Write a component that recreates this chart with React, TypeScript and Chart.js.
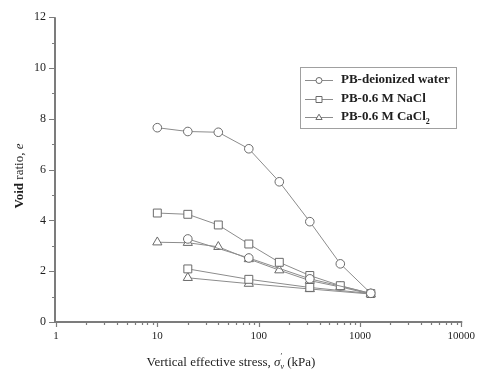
import React, { useEffect, useRef } from "react";
import { Chart, registerables } from "chart.js";

Chart.register(...registerables);

// ---- data ----
const stressLoading = [10, 20, 40, 80, 160, 320, 640, 1280];
const stressUnloading = [320, 80, 20];
const waterLoading = [7.65, 7.5, 7.47, 6.82, 5.52, 3.95, 2.29, 1.13];
const waterUnloading = [1.7, 2.52, 3.27];
const naclLoading = [4.29, 4.24, 3.82, 3.07, 2.35, 1.83, 1.43, 1.12];
const naclUnloading = [1.36, 1.68, 2.09];
const caclLoading = [3.14, 3.12, 2.96, 2.48, 2.04, 1.63, 1.38, 1.1];
const caclUnloading = [1.3, 1.51, 1.74];
const seriesLabels = ["PB-deionized water", "PB-0.6 M NaCl", "PB-0.6 M CaCl"];
const seriesSubscripts = ["", "", "2"];
const pointStyles = ["circle", "rect", "triangle"];
const xMajorTicks = [1, 10, 100, 1000, 10000];
const yTicks = [0, 2, 4, 6, 8, 10, 12];

const SERIF = '"Liberation Serif", "Times New Roman", serif';
const LINE = "#8c8c8c";
const MARK = "#6a6a6a";
const AXIS = "#7c7c7c";
const TEXT = "#1e1e1e";

function buildPath(loadY: number[], unloadY: number[]) {
  return [
    ...stressLoading.map((x, i) => ({ x, y: loadY[i] })),
    ...stressUnloading.map((x, i) => ({ x, y: unloadY[i] })),
  ];
}

function drawMarker(ctx: CanvasRenderingContext2D, style: string, x: number, y: number, r: number) {
  ctx.beginPath();
  if (style === "circle") {
    ctx.arc(x, y, r, 0, Math.PI * 2);
  } else if (style === "rect") {
    ctx.rect(x - r, y - r, 2 * r, 2 * r);
  } else {
    const h = r * 1.1;
    ctx.moveTo(x, y - h);
    ctx.lineTo(x + h * 0.95, y + h * 0.6);
    ctx.lineTo(x - h * 0.95, y + h * 0.6);
    ctx.closePath();
  }
  ctx.fillStyle = "#fff";
  ctx.fill();
  ctx.stroke();
}

type Piece = { t: string; font: string; dy?: number; overlap?: boolean };

function drawPieces(ctx: CanvasRenderingContext2D, pieces: Piece[], cx: number, cy: number) {
  let total = 0;
  const widths: number[] = [];
  pieces.forEach((p) => {
    ctx.font = p.font;
    const w = ctx.measureText(p.t).width;
    widths.push(w);
    if (!p.overlap) total += w;
  });
  let x = cx - total / 2;
  let lastX = x;
  pieces.forEach((p, i) => {
    ctx.font = p.font;
    if (p.overlap) {
      ctx.fillText(p.t, lastX, cy + (p.dy || 0));
      return;
    }
    ctx.fillText(p.t, x, cy + (p.dy || 0));
    lastX = x;
    x += widths[i];
  });
}

const decor = {
  id: "decor",
  afterDraw(chart: any) {
    const ctx: CanvasRenderingContext2D = chart.ctx;
    const { left, right, top, bottom } = chart.chartArea;
    const xs = chart.scales.x;
    const ys = chart.scales.y;
    ctx.save();
    // axes lines
    ctx.strokeStyle = AXIS;
    ctx.lineWidth = 2;
    ctx.beginPath();
    ctx.moveTo(left - 1, top);
    ctx.lineTo(left - 1, bottom + 1);
    ctx.moveTo(left - 2, bottom);
    ctx.lineTo(right + 1, bottom);
    ctx.stroke();
    // x ticks
    ctx.lineWidth = 1.2;
    ctx.beginPath();
    for (let k = 0; k < 4; k++) {
      for (let m = 1; m <= 9; m++) {
        const v = m * Math.pow(10, k);
        const px = Math.round(xs.getPixelForValue(v)) + 0.5;
        const len = m === 1 ? 5 : 3;
        ctx.moveTo(px, bottom);
        ctx.lineTo(px, bottom + len);
      }
    }
    const pEnd = Math.round(xs.getPixelForValue(10000)) + 0.5;
    ctx.moveTo(pEnd, bottom);
    ctx.lineTo(pEnd, bottom + 5);
    // y ticks
    for (let v = 0; v <= 12; v++) {
      const py = Math.round(ys.getPixelForValue(v)) + 0.5;
      const len = v % 2 === 0 ? 6 : 3;
      ctx.moveTo(left - 1, py);
      ctx.lineTo(left - 1 - len, py);
    }
    ctx.stroke();

    // titles
    ctx.fillStyle = TEXT;
    ctx.textBaseline = "middle";
    ctx.textAlign = "left";
    drawPieces(
      ctx,
      [
        { t: "Vertical effective stress, ", font: `13px ${SERIF}` },
        { t: "σ", font: `italic 13px ${SERIF}` },
        { t: "v", font: `italic 8px ${SERIF}`, dy: 4 },
        { t: "′", font: `8px ${SERIF}`, dy: -6, overlap: true },
        { t: " (kPa)", font: `13px ${SERIF}` },
      ],
      231,
      363
    );
    ctx.save();
    ctx.translate(20, 176);
    ctx.rotate(-Math.PI / 2);
    drawPieces(
      ctx,
      [
        { t: "Void", font: `bold 13px ${SERIF}` },
        { t: " ratio, ", font: `13px ${SERIF}` },
        { t: "e", font: `italic 13px ${SERIF}` },
      ],
      0,
      0
    );
    ctx.restore();

    // legend
    const bx = 300.5, by = 67.5, bw = 156, bh = 61;
    ctx.strokeStyle = "#a0a0a0";
    ctx.lineWidth = 1;
    ctx.strokeRect(bx, by, bw, bh);
    const rows = [80, 99, 117];
    seriesLabels.forEach((label, i) => {
      const ry = rows[i];
      ctx.strokeStyle = LINE;
      ctx.lineWidth = 1;
      ctx.beginPath();
      ctx.moveTo(305, ry + 0.5);
      ctx.lineTo(333, ry + 0.5);
      ctx.stroke();
      ctx.strokeStyle = MARK;
      drawMarker(ctx, pointStyles[i], 319, ry + 0.5, 3);
      ctx.fillStyle = TEXT;
      ctx.font = `bold 13px ${SERIF}`;
      ctx.textBaseline = "middle";
      ctx.fillText(label, 341, ry);
      if (seriesSubscripts[i]) {
        const w = ctx.measureText(label).width;
        ctx.font = `bold 8px ${SERIF}`;
        ctx.fillText(seriesSubscripts[i], 341 + w, ry + 5);
      }
    });
    ctx.restore();
  },
};

export default function App() {
  const ref = useRef<HTMLCanvasElement>(null);
  useEffect(() => {
    if (!ref.current) return;
    const mk = (data: any, style: string, r: number) => ({
      data,
      borderColor: LINE,
      borderWidth: 1,
      pointStyle: style,
      pointRadius: r,
      pointBorderColor: MARK,
      pointBackgroundColor: "#ffffff",
      pointBorderWidth: 1,
      tension: 0,
      fill: false,
    });
    const chart = new Chart(ref.current, {
      type: "line",
      data: {
        datasets: [
          mk(buildPath(waterLoading, waterUnloading), "circle", 4.3),
          mk(buildPath(naclLoading, naclUnloading), "rect", 5.6),
          mk(buildPath(caclLoading, caclUnloading), "triangle", 5.3),
        ] as any,
      },
      options: {
        animation: false,
        responsive: true,
        maintainAspectRatio: false,
        layout: { padding: { top: 16, right: 16, left: 0, bottom: 0 } },
        plugins: { legend: { display: false }, tooltip: { enabled: false } },
        scales: {
          x: {
            type: "logarithmic",
            min: 1,
            max: 10000,
            grid: { display: false, drawTicks: false },
            border: { display: false },
            afterBuildTicks: (s: any) => {
              s.ticks = xMajorTicks.map((v) => ({ value: v }));
            },
            afterFit: (s: any) => {
              s.height = 51;
            },
            ticks: {
              autoSkip: false,
              maxRotation: 0,
              padding: 8,
              color: TEXT,
              font: { family: SERIF, size: 11 },
              callback: (v: any) => String(v),
            },
          },
          y: {
            type: "linear",
            min: 0,
            max: 12,
            grid: { display: false, drawTicks: false },
            border: { display: false },
            afterBuildTicks: (s: any) => {
              s.ticks = yTicks.map((v) => ({ value: v }));
            },
            afterFit: (s: any) => {
              s.width = 56;
            },
            ticks: {
              padding: 10,
              color: TEXT,
              font: { family: SERIF, size: 12 },
              callback: (v: any) => String(v),
            },
          },
        },
      },
      plugins: [decor],
    });
    return () => chart.destroy();
  }, []);
  return (
    <div style={{ position: "absolute", left: 0, top: 0, width: 483, height: 373 }}>
      <canvas ref={ref} />
    </div>
  );
}
